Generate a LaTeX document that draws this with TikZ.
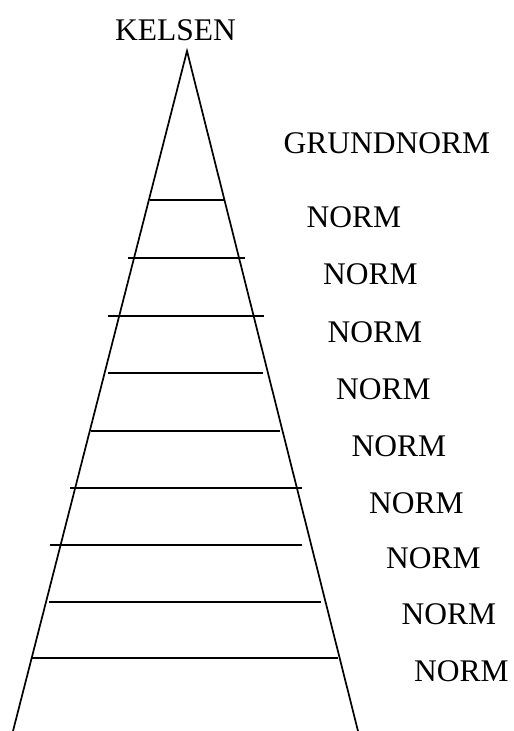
\documentclass[tikz,border=0pt]{standalone}
\usepackage{fontspec}
\setmainfont{Liberation Serif}
\usetikzlibrary{positioning}

\begin{document}
\begin{tikzpicture}[x=1pt,y=-1pt]
\tikzset{lbl/.style={font=\fontsize{31.5}{34}\selectfont,inner sep=0pt},
  rung/.style={line width=1.4pt}}
\useasboundingbox (0,0) rectangle (514,731);
% pyramid
\coordinate (top) at (187,51);
\coordinate (bl) at (13,731);
\coordinate (br) at (358,731);
\draw[line width=1.7pt] (bl) -- (top) -- (br);
\node (kelsen) at (175.5,30) [lbl] {KELSEN};
\node (grund) at (387,143) [lbl] {GRUNDNORM};
% levels
\draw[rung] (150,200) -- (224,200);
\draw[rung] (128,258) -- (245,258);
\draw[rung] (108,316) -- (264,316);
\draw[rung] (108,373) -- (263,373);
\draw[rung] (91,431) -- (280,431);
\draw[rung] (70,488) -- (302,488);
\draw[rung] (50,545) -- (302,545);
\draw[rung] (49,602) -- (321,602);
\draw[rung] (32,658) -- (338,658);
% labels
\node (n1) at (354,217.5) [lbl] {NORM};
\node (n2) at (370.5,274.5) [lbl] {NORM};
\node (n3) at (375,332) [lbl] {NORM};
\node (n4) at (383.5,389) [lbl] {NORM};
\node (n5) at (399,446) [lbl] {NORM};
\node (n6) at (416.5,503.5) [lbl] {NORM};
\node (n7) at (433.5,558.5) [lbl] {NORM};
\node (n8) at (449,614.5) [lbl] {NORM};
\node (n9) at (461.5,671) [lbl] {NORM};
\end{tikzpicture}
\end{document}
